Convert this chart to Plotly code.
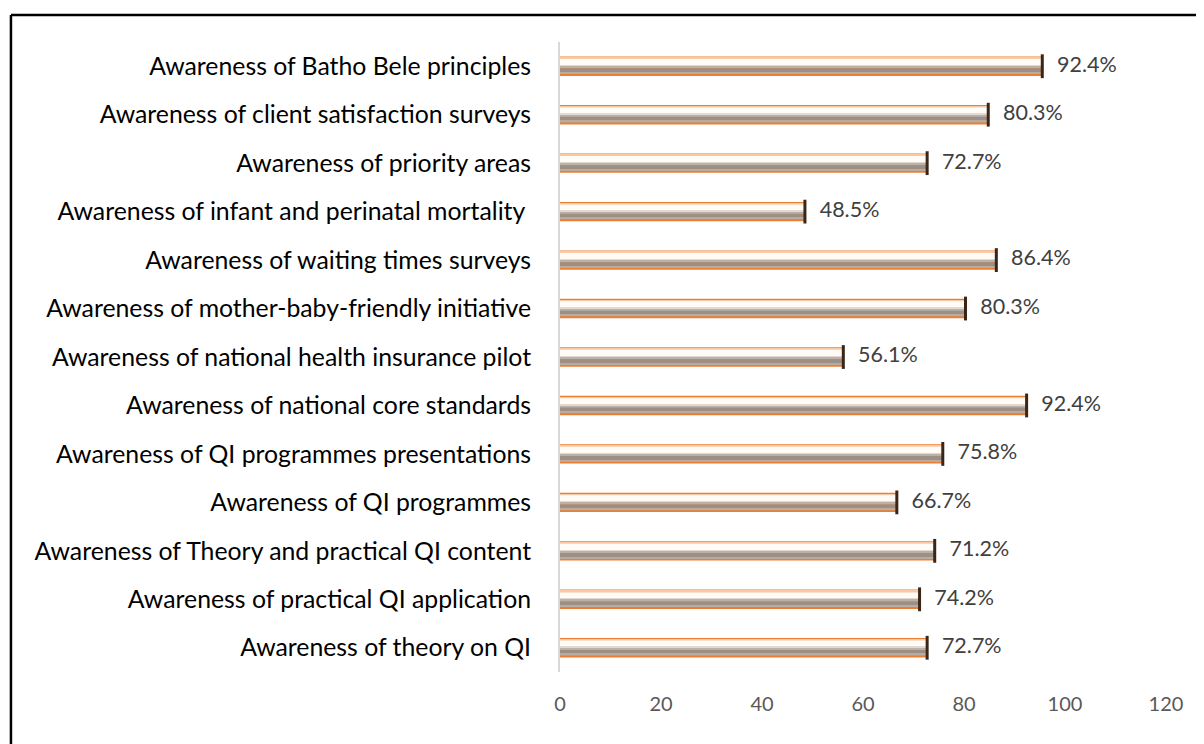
import plotly.graph_objects as go

# ---- data (top to bottom as shown) ----
categories = [
    "Awareness of Batho Bele principles",
    "Awareness of client satisfaction surveys",
    "Awareness of priority areas",
    "Awareness of infant and perinatal mortality ",
    "Awareness of waiting times surveys",
    "Awareness of mother-baby-friendly initiative",
    "Awareness of national health insurance pilot",
    "Awareness of national core standards",
    "Awareness of QI programmes presentations",
    "Awareness of QI programmes",
    "Awareness of Theory and practical QI content",
    "Awareness of practical QI application",
    "Awareness of theory on QI",
]
bar_values = [95.5, 84.8, 72.7, 48.5, 86.4, 80.3, 56.1, 92.4, 75.8, 66.7, 74.2, 71.2, 72.7]
value_labels = ["92.4%", "80.3%", "72.7%", "48.5%", "86.4%", "80.3%", "56.1%",
                "92.4%", "75.8%", "66.7%", "71.2%", "74.2%", "72.7%"]
x_ticks = [0, 20, 40, 60, 80, 100, 120]

# ---- styling ----
BAR_T = 0.40  # bar thickness in category units
# bands from visual top (0) to bottom (1) to mimic the gradient bar
bands = [
    (0.00, 1.00, "#ED7D31"),
    (0.07, 0.14, "#F9C9A5"),
    (0.13, 0.46, "#FFFCF8"),
    (0.46, 0.53, "#E2DAD2"),
    (0.53, 0.61, "#BDB1A6"),
    (0.61, 0.82, "#9C9086"),
    (0.82, 0.90, "#B8ACA1"),
]

fig = go.Figure()
for a, b, col in bands:
    fig.add_trace(go.Bar(
        x=bar_values, y=categories, orientation="h",
        offset=-BAR_T / 2 + a * BAR_T, width=(b - a) * BAR_T,
        marker=dict(color=col, line=dict(width=0)),
        hoverinfo="skip", showlegend=False,
    ))

# dark bevelled end cap
fig.add_trace(go.Scatter(
    x=bar_values, y=categories, mode="markers",
    marker=dict(symbol="line-ns", size=17, line=dict(width=3, color="#3A2516")),
    hoverinfo="skip", showlegend=False, cliponaxis=False,
))
# value labels
fig.add_trace(go.Scatter(
    x=bar_values, y=categories, mode="markers+text",
    marker=dict(size=22, opacity=0),
    text=value_labels, textposition="middle right",
    textfont=dict(family="Lato", size=21.5, color="#404040"),
    hoverinfo="skip", showlegend=False, cliponaxis=False,
))

# page body has an 8px margin: compensate so the screen layout matches
OFF = 8
W, H = 1204, 744
L = 559.5 - OFF
T = 42 - OFF
R = W - (1166 - OFF)
B = H - (672 - OFF)
pw, ph = W - L - R, H - T - B
xl = (10 - OFF - L) / pw
yt = (H - B - (15 - OFF)) / ph

fig.update_layout(
    width=W, height=H,
    margin=dict(l=L, r=R, t=T, b=B, pad=0),
    barmode="overlay",
    paper_bgcolor="white", plot_bgcolor="white",
    font=dict(family="Lato", color="#000000"),
    xaxis=dict(range=[0, 120], tickvals=x_ticks, showgrid=False, zeroline=False,
               showline=False, ticks="", ticklabelstandoff=18,
               tickfont=dict(family="Lato", size=20, color="#595959")),
    yaxis=dict(range=[len(categories) - 0.5, -0.5], showgrid=False, zeroline=False,
               showline=True, linecolor="#D9D9D9", linewidth=2, ticks="",
               ticklabelstandoff=22,
               tickfont=dict(family="Lato", size=24.8, color="#000000")),
    shapes=[
        dict(type="line", xref="paper", yref="paper", x0=xl, x1=xl, y0=-0.3, y1=yt,
             line=dict(color="black", width=2.5)),
        dict(type="line", xref="paper", yref="paper", x0=xl, x1=1.2, y0=yt, y1=yt,
             line=dict(color="black", width=2.5)),
    ],
)

fig.write_html("out.html")
